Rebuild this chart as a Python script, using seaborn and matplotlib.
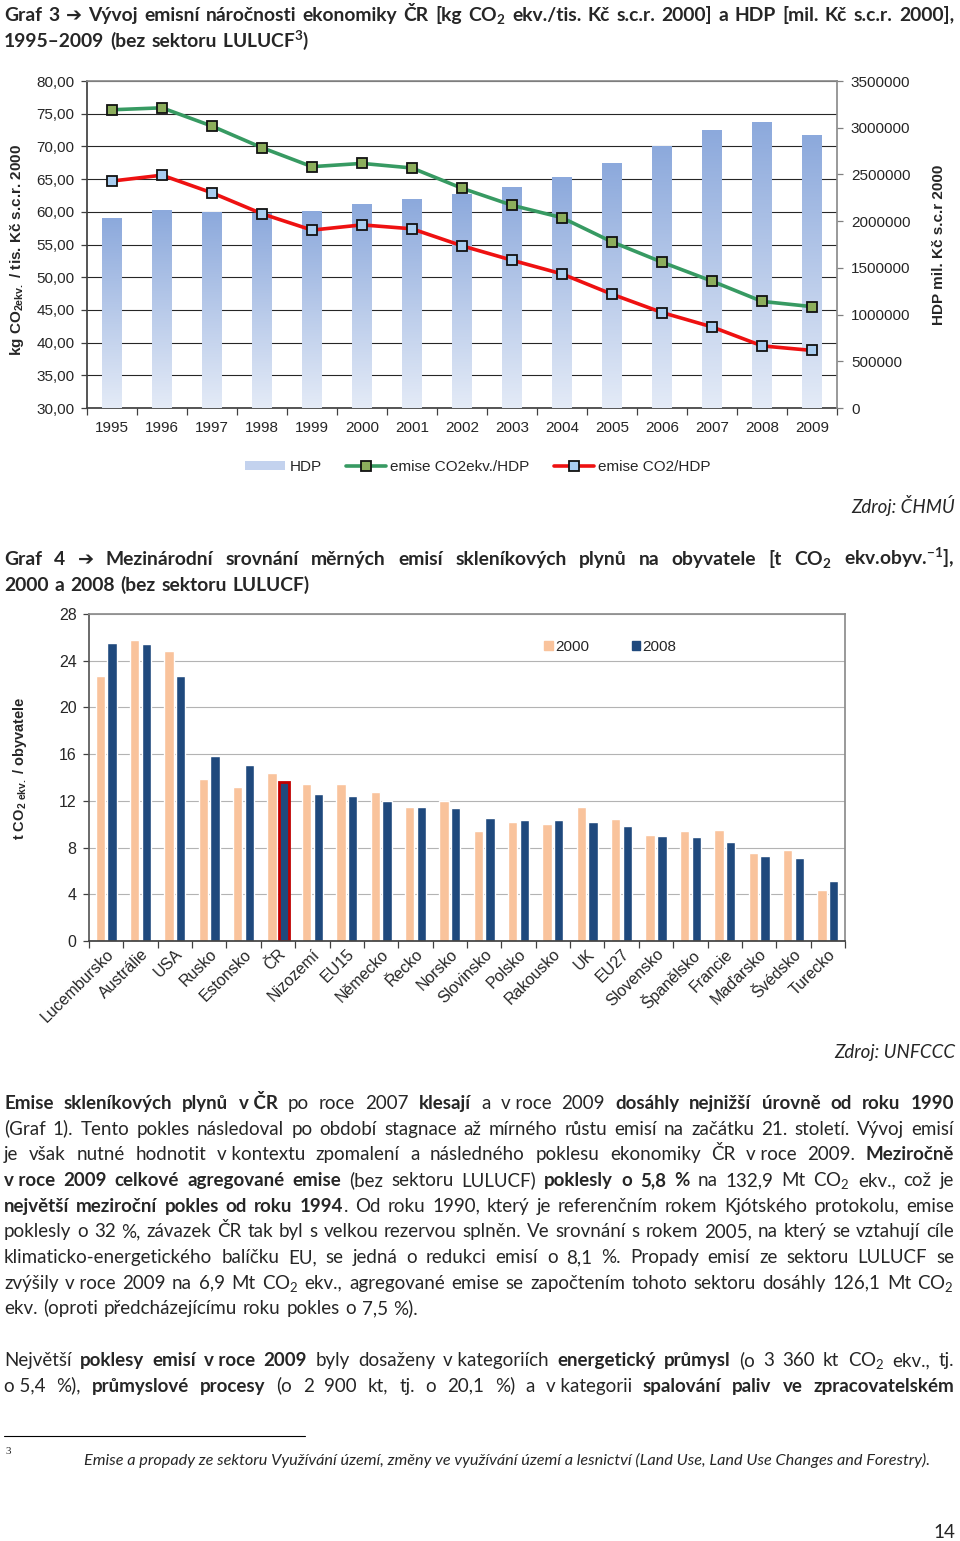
import numpy as np
import pandas as pd
import seaborn as sns
import matplotlib.pyplot as plt
import matplotlib.transforms as mtransforms
from matplotlib.colors import LinearSegmentedColormap
from matplotlib.lines import Line2D
from matplotlib.patches import Patch
from matplotlib.ticker import FixedLocator, FuncFormatter

# --- Graf 3 data ---
years = ['1995', '1996', '1997', '1998', '1999', '2000', '2001', '2002',
         '2003', '2004', '2005', '2006', '2007', '2008', '2009']
hdp = [2030000, 2109000, 2094000, 2087000, 2101000, 2183000, 2230000, 2287000,
       2358000, 2472000, 2622000, 2797000, 2968000, 3054000, 2922000]
emise_ekv_hdp = [75.6, 75.9, 73.1, 69.8, 66.9, 67.4, 66.7, 63.6,
                 61.0, 59.1, 55.4, 52.3, 49.4, 46.3, 45.5]
emise_co2_hdp = [64.7, 65.6, 62.9, 59.7, 57.2, 58.0, 57.4, 54.8,
                 52.6, 50.5, 47.4, 44.6, 42.4, 39.5, 38.8]

# --- Graf 4 data ---
countries = ['Lucembursko', 'Austrálie', 'USA', 'Rusko', 'Estonsko', 'ČR', 'Nizozemí',
             'EU15', 'Německo', 'Řecko', 'Norsko', 'Slovinsko', 'Polsko', 'Rakousko',
             'UK', 'EU27', 'Slovensko', 'Španělsko', 'Francie', 'Maďarsko', 'Švédsko',
             'Turecko']
emise_2000 = [22.65, 25.8, 24.8, 13.85, 13.2, 14.35, 13.45, 13.45, 12.8, 11.5, 12.0,
              9.4, 10.2, 10.0, 11.45, 10.45, 9.1, 9.4, 9.5, 7.55, 7.8, 4.4]
emise_2008 = [25.55, 25.4, 22.65, 15.8, 15.1, 13.6, 12.55, 12.4, 12.0, 11.45, 11.35,
              10.5, 10.4, 10.4, 10.2, 9.85, 9.0, 8.9, 8.5, 7.3, 7.1, 5.15]

# --- page text (* toggles bold, ~ is a fixed space) ---
title3 = ['*Graf 3 ➔ Vývoj emisní náročnosti ekonomiky ČR [kg CO$_2$ ekv./tis. Kč s.c.r. 2000] a HDP [mil. Kč s.c.r. 2000],*',
          '*1995–2009 (bez sektoru LULUCF$^3$)*']
title4 = ['*Graf 4 ➔ Mezinárodní srovnání měrných emisí skleníkových plynů na obyvatele [t CO$_2$ ekv.obyv.$^{-1}$],*',
          '*2000 a 2008 (bez sektoru LULUCF)*']
para1 = ['*Emise skleníkových plynů v~ČR* po roce 2007 *klesají* a v~roce 2009 *dosáhly nejnižší úrovně od roku 1990*',
         '(Graf 1). Tento pokles následoval po období stagnace až mírného růstu emisí na začátku 21. století. Vývoj emisí',
         'je však nutné hodnotit v~kontextu zpomalení a následného poklesu ekonomiky ČR v~roce 2009. *Meziročně*',
         '*v~roce 2009 celkové agregované emise* (bez sektoru LULUCF) *poklesly o 5,8 %* na 132,9 Mt CO$_2$ ekv., což je',
         '*největší meziroční pokles od roku 1994*. Od roku 1990, který je referenčním rokem Kjótského protokolu, emise',
         'poklesly o 32 %, závazek ČR tak byl s velkou rezervou splněn. Ve srovnání s rokem 2005, na který se vztahují cíle',
         'klimaticko-energetického balíčku EU, se jedná o redukci emisí o 8,1 %. Propady emisí ze sektoru LULUCF se',
         'zvýšily v~roce 2009 na 6,9 Mt CO$_2$ ekv., agregované emise se započtením tohoto sektoru dosáhly 126,1 Mt CO$_2$',
         'ekv. (oproti předcházejícímu roku pokles o 7,5 %).']
para2 = ['Největší *poklesy emisí v~roce 2009* byly dosaženy v~kategoriích *energetický průmysl* (o 3 360 kt CO$_2$ ekv., tj.',
         'o~5,4 %), *průmyslové procesy* (o 2 900 kt, tj. o 20,1 %) a v~kategorii *spalování paliv ve zpracovatelském*']
footnote = 'Emise a propady ze sektoru Využívání území, změny ve využívání území a lesnictví (Land Use, Land Use Changes and Forestry).'

W, H = 960, 1541
CHART_FONT = ['Liberation Sans', 'DejaVu Sans']
TEXT_FONT = ['Lato', 'DejaVu Sans']
BODY_SIZE = 14.2

sns.set_theme(style='white')
plt.rcParams['font.family'] = CHART_FONT
plt.rcParams['mathtext.default'] = 'regular'

fig = plt.figure(figsize=(W / 100, H / 100), dpi=100, facecolor='white')
renderer = fig.canvas.get_renderer()


def fx(px):
    return px / W


def fy(py):
    return 1 - py / H


def axes_rect(left, top, right, bottom):
    return [left / W, 1 - bottom / H, (right - left) / W, (bottom - top) / H]


def parse_words(line):
    bold = False
    words = []
    for raw in line.split(' '):
        pieces, buf = [], ''
        for ch in raw:
            if ch == '*':
                if buf:
                    pieces.append((buf.replace('~', '\u00a0'), bold))
                    buf = ''
                bold = not bold
            else:
                buf += ch
        if buf:
            pieces.append((buf.replace('~', '\u00a0'), bold))
        if pieces:
            words.append(pieces)
    return words


def text_width(s, size, bold, style='normal'):
    t = fig.text(0, 0, s, fontsize=size, family=TEXT_FONT, fontstyle=style,
                 fontweight='bold' if bold else 'normal')
    w = t.get_window_extent(renderer).width
    t.remove()
    return w


def space_width(size):
    return text_width('a a', size, False) - text_width('aa', size, False)


def natural_width(line, size):
    words = parse_words(line)
    total = sum(text_width(s, size, b) + 1 for w in words for s, b in w)
    return total + space_width(size) * (len(words) - 1)


def fit_size(lines, avail=951):
    ratio = min(avail / natural_width(line, BODY_SIZE) for line in lines)
    return BODY_SIZE * min(1.0, ratio * 0.995)


def draw_line(line, y, size, justify=True, x0=4, x1=955):
    words = parse_words(line)
    widths = [[text_width(s, size, b) for s, b in w] for w in words]
    used = sum(sum(ws) + len(ws) for ws in widths)
    sp = space_width(size)
    if justify and len(words) > 1:
        sp = (x1 - x0 - used) / (len(words) - 1)
    x = x0
    for w, ws in zip(words, widths):
        for (s, b), pw in zip(w, ws):
            fig.text(fx(x), fy(y), s, fontsize=size, family=TEXT_FONT,
                     fontweight='bold' if b else 'normal', ha='left', va='baseline')
            x += pw + 1
        x += sp


def draw_graf3():
    ax = fig.add_axes(axes_rect(87, 81, 837, 408))
    ax2 = ax.twinx()
    ax3 = ax.twinx()

    sns.barplot(x=years, y=hdp, ax=ax2, color='#a9c0e6', width=0.4, saturation=1)
    cmap = LinearSegmentedColormap.from_list('hdp', ['#e4ebf7', '#8ca9dc'])
    grad = np.linspace(0, 1, 256).reshape(-1, 1)
    for bar in ax2.patches:
        x0, y0 = bar.get_x(), bar.get_y()
        ax2.imshow(grad, extent=[x0, x0 + bar.get_width(), y0, y0 + bar.get_height()],
                   origin='lower', cmap=cmap, aspect='auto', zorder=2)
        bar.set_facecolor('none')
        bar.set_edgecolor('none')

    pos = np.arange(len(years))
    sns.lineplot(x=pos, y=emise_ekv_hdp, ax=ax3, color='#379a62', lw=2.6, marker='s',
                 ms=7, mec='#111111', mew=1.3, mfc='#8cae5c')
    sns.lineplot(x=pos, y=emise_co2_hdp, ax=ax3, color='#ee1111', lw=2.6, marker='s',
                 ms=7, mec='#111111', mew=1.3, mfc='#a9cdf0')

    ax.set_xlim(-0.5, len(years) - 0.5)
    ax.set_ylim(30, 80)
    ax2.set_ylim(0, 3500000)
    ax3.set_ylim(30, 80)
    ax3.axis('off')

    ax.set_yticks(np.arange(30, 81, 5))
    ax.yaxis.set_major_formatter(FuncFormatter(lambda v, p: f'{v:.2f}'.replace('.', ',')))
    ax.set_xticks(pos, labels=years)
    ax.xaxis.set_minor_locator(FixedLocator(np.arange(-0.5, len(years), 1)))
    ax.tick_params(axis='x', which='major', bottom=True, length=0, pad=9.5, labelsize=11)
    ax.tick_params(axis='x', which='minor', bottom=True, length=5, width=0.9,
                   color='#404040', direction='out')
    ax.tick_params(axis='y', left=True, length=4, width=0.9, color='#404040',
                   direction='out', pad=5, labelsize=11)
    ax.yaxis.grid(True, color='#262626', lw=0.8)
    ax.xaxis.grid(False)

    ax2.set_yticks(np.arange(0, 3500001, 500000))
    ax2.yaxis.set_major_formatter(FuncFormatter(lambda v, p: f'{v:.0f}'))
    ax2.tick_params(axis='y', right=True, length=4, width=0.9, color='#808080',
                    direction='out', pad=6, labelsize=11)
    ax2.set_ylabel('')
    ax2.grid(False)

    for name, sp in ax.spines.items():
        sp.set_visible(name in ('left', 'bottom'))
        sp.set_color('#404040')
    for name, sp in ax2.spines.items():
        sp.set_visible(name in ('right', 'top'))
        sp.set_color('#8c8c8c')

    fig.text(fx(17), fy(250), 'kg CO$_{2ekv.}$ / tis. Kč s.c.r. 2000', rotation=90,
             ha='center', va='center', fontsize=11, fontweight='bold')
    fig.text(fx(939), fy(245), 'HDP mil. Kč s.c.r 2000', rotation=90,
             ha='center', va='center', fontsize=11, fontweight='bold')

    handles = [Patch(facecolor='#c3d2ee', edgecolor='none'),
               Line2D([], [], color='#379a62', lw=2.6, marker='s', ms=7, mec='#111111',
                      mew=1.3, mfc='#8cae5c'),
               Line2D([], [], color='#ee1111', lw=2.6, marker='s', ms=7, mec='#111111',
                      mew=1.3, mfc='#a9cdf0')]
    fig.legend(handles, ['HDP', 'emise CO2ekv./HDP', 'emise CO2/HDP'], loc='center',
               bbox_to_anchor=(fx(478), fy(467)), ncol=3, frameon=False, fontsize=11,
               handlelength=2.6, handleheight=0.45, handletextpad=0.3, columnspacing=1.6)


def draw_graf4():
    ax = fig.add_axes(axes_rect(89, 614, 845, 941))
    n = len(countries)
    df = pd.DataFrame({'zeme': countries * 2,
                       'rok': ['2000'] * n + ['2008'] * n,
                       'emise': emise_2000 + emise_2008})
    palette = {'2000': '#f9c39c', '2008': '#1f497d'}
    sns.barplot(data=df, x='zeme', y='emise', hue='rok', palette=palette, width=0.68,
                gap=0.2, saturation=1, ax=ax, legend=False)
    cr = countries.index('ČR')
    for bar in ax.patches:
        cx = bar.get_x() + bar.get_width() / 2
        if abs(cx - (cr + 0.17)) < 0.05:
            bar.set_edgecolor('#c00000')
            bar.set_linewidth(2)

    ax.set_xlim(-0.5, n - 0.5)
    ax.set_ylim(0, 28)
    ax.set_yticks(range(0, 29, 4))
    ax.set_xticks(range(n), labels=countries, rotation=45, ha='right',
                  rotation_mode='anchor')
    offset = mtransforms.ScaledTranslation(4 / 72, 0, fig.dpi_scale_trans)
    for lab in ax.get_xticklabels():
        lab.set_transform(lab.get_transform() + offset)
    ax.xaxis.set_minor_locator(FixedLocator(np.arange(-0.5, n, 1)))
    ax.tick_params(axis='x', which='major', bottom=True, length=0, pad=4, labelsize=11.5)
    ax.tick_params(axis='x', which='minor', bottom=True, length=5, width=0.9,
                   color='#404040', direction='out')
    ax.tick_params(axis='y', left=True, length=4, width=0.9, color='#404040',
                   direction='out', pad=5, labelsize=11.5)
    ax.yaxis.grid(True, color='#b3b3b3', lw=0.8)
    ax.xaxis.grid(False)
    ax.set_axisbelow(True)
    ax.set_xlabel('')
    ax.set_ylabel('')
    ax.spines['left'].set_color('#595959')
    ax.spines['bottom'].set_color('#404040')
    ax.spines['top'].set_color('#8c8c8c')
    ax.spines['right'].set_color('#8c8c8c')

    ax.legend([Patch(color=palette['2000']), Patch(color=palette['2008'])], ['2000', '2008'],
              loc='center left', bbox_to_anchor=(0.584, 0.899), ncol=2, frameon=False,
              fontsize=11, handlelength=0.55, handleheight=0.55, handletextpad=0.15,
              columnspacing=2.8)

    fig.text(fx(20), fy(768), 't CO$_{2\\ ekv.}$ / obyvatele', rotation=90,
             ha='center', va='center', fontsize=10.5, fontweight='bold')


def draw_text():
    title_size = fit_size(title3[:1] + title4[:1])
    # plain lines set the body size, lines with more bold shrink a little to fit
    body_size = fit_size([para1[1], para1[5], para1[6]])

    draw_line(title3[0], 21, title_size)
    draw_line(title3[1], 47, title_size, justify=False)
    draw_line(title4[0], 565, title_size)
    draw_line(title4[1], 591, title_size, justify=False)
    for i, line in enumerate(para1):
        last = i == len(para1) - 1
        size = body_size if last else min(body_size, fit_size([line]))
        draw_line(line, 1109 + 25.65 * i, size, justify=not last)
    for i, line in enumerate(para2):
        draw_line(line, 1366 + 25.65 * i, min(body_size, fit_size([line])))

    fig.text(fx(955), fy(513), 'Zdroj: ČHMÚ', fontsize=body_size, family=TEXT_FONT,
             fontstyle='italic', ha='right', va='baseline')
    fig.text(fx(955), fy(1058), 'Zdroj: UNFCCC', fontsize=body_size, family=TEXT_FONT,
             fontstyle='italic', ha='right', va='baseline')

    fig.add_artist(Line2D([fx(4), fx(305)], [fy(1436), fy(1436)], color='black', lw=0.8))
    fig.text(fx(5), fy(1454), '3', fontsize=8, family=['Liberation Serif', 'DejaVu Serif'],
             ha='left', va='baseline')
    fn_size = 10.5
    fn_size *= 853 / text_width(footnote, fn_size, False, 'italic')
    fig.text(fx(84), fy(1465), footnote, fontsize=fn_size, family=TEXT_FONT,
             fontstyle='italic', ha='left', va='baseline')
    fig.text(fx(955), fy(1538), '14', fontsize=body_size, family=TEXT_FONT,
             ha='right', va='baseline')


def main():
    draw_graf3()
    draw_graf4()
    draw_text()
    fig.savefig('out.png', dpi=100, facecolor='white')


if __name__ == '__main__':
    main()
